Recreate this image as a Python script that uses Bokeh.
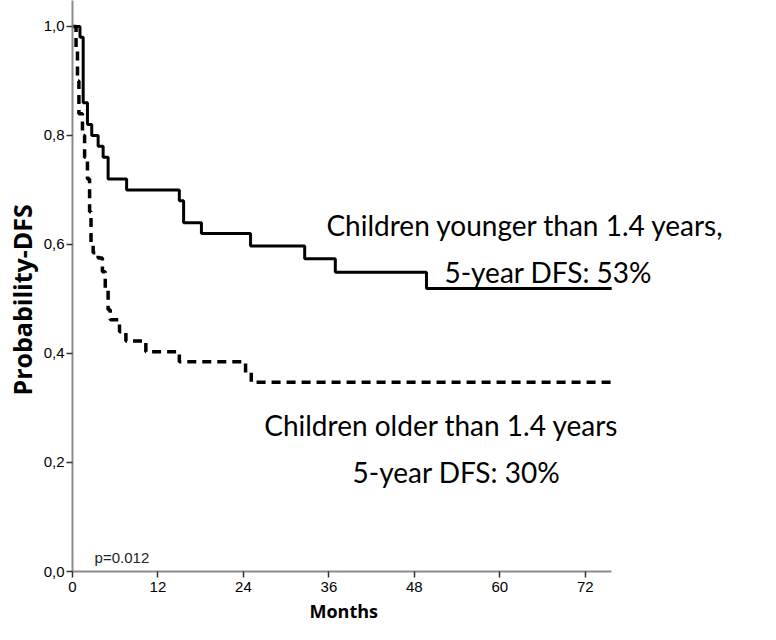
from bokeh.plotting import figure
from bokeh.models import Range1d, FixedTicker, Title
from bokeh.core.properties import value
from bokeh.embed import file_html
from bokeh.resources import INLINE

# Kaplan-Meier estimates (months, survival after the step)
young_t = [0, 1.05, 1.5, 2.1, 2.7, 3.6, 4.3, 5.0, 7.6, 15.0, 15.6, 18.1, 25.0, 32.6, 36.9, 49.7, 75.7]
young_s = [1.0, 0.98, 0.86, 0.82, 0.80, 0.78, 0.76, 0.72, 0.70, 0.68, 0.64, 0.62, 0.597, 0.574, 0.549, 0.519, 0.519]

old_t = [0, 0.5, 0.7, 0.9, 1.4, 1.7, 2.1, 2.4, 2.6, 2.9, 3.6, 4.2, 4.6, 5.0, 5.3, 6.6, 7.5, 10.3, 15.0, 24.3, 25.1, 75.7]
old_s = [1.0, 0.96, 0.90, 0.84, 0.80, 0.76, 0.72, 0.66, 0.60, 0.585, 0.575, 0.55, 0.52, 0.48, 0.462, 0.44, 0.423, 0.403, 0.385, 0.365, 0.347, 0.347]

x_ticks = [0, 12, 24, 36, 48, 60, 72]
x_tick_labels = ["0", "12", "24", "36", "48", "60", "72"]
y_ticks = [0.0, 0.2, 0.4, 0.6, 0.8, 1.0]
y_tick_labels = ["0,0", "0,2", "0,4", "0,6", "0,8", "1,0"]

ann_x = [63.6, 66.8, 51.8, 53.9]
ann_y = [0.636, 0.549, 0.269, 0.183]
ann_text = ["Children younger than 1.4 years,", "5-year DFS: 53%",
            "Children older than 1.4 years", "5-year DFS: 30%"]

p_text = ["p=0.012"]
p_x = [3.1]
p_y = [0.026]

p = figure(width=760, height=624, output_backend="svg", toolbar_location=None,
           x_range=Range1d(0, 96.6), y_range=Range1d(0, 1.0476),
           min_border_left=70, min_border_right=0, min_border_top=0, min_border_bottom=52)
p.outline_line_color = None
p.xgrid.visible = False
p.ygrid.visible = False
p.background_fill_color = "white"
p.border_fill_color = "white"

p.step(old_t, old_s, mode="after", line_color="black", line_width=3.5, line_dash="9 6")
p.step(young_t, young_s, mode="after", line_color="black", line_width=3)

p.text(ann_x, ann_y, text=ann_text, text_align="center", text_baseline="alphabetic",
       text_font=value("Lato"), text_font_size="28px", text_color="black")
p.text(p_x, p_y, text=p_text, text_align="left", text_baseline="alphabetic",
       text_font=value("Liberation Sans"), text_font_size="15px", text_color="#222222")

for ax in (p.xaxis[0], p.yaxis[0]):
    ax.axis_line_color = "#8c8c8c"
    ax.axis_line_width = 2
    ax.major_tick_line_color = "#333333"
    ax.major_tick_line_width = 1.5
    ax.major_tick_out = 6
    ax.major_tick_in = 0
    ax.minor_tick_line_color = None
    ax.major_label_text_font = "Liberation Sans"
    ax.major_label_text_font_size = "15px"
    ax.major_label_text_color = "black"

p.xaxis.ticker = FixedTicker(ticks=x_ticks)
p.xaxis.major_label_overrides = dict(zip(x_ticks, x_tick_labels))
p.xaxis.bounds = (0, 75.7)
p.xaxis.major_label_standoff = 4

months = Title(text="Months", align="left", offset=237, standoff=4,
               text_font="Open Sans", text_font_style="bold", text_font_size="18px",
               text_color="black")
p.add_layout(months, "below")

p.yaxis.ticker = FixedTicker(ticks=y_ticks)
p.yaxis.major_label_overrides = dict(zip(y_ticks, y_tick_labels))
p.yaxis.major_label_standoff = 2

ylab = Title(text="Probability-DFS", align="left", offset=176, standoff=4,
             text_font="Open Sans", text_font_style="bold", text_font_size="25px",
             text_color="black")
p.add_layout(ylab, "left")

open("out.html", "w").write(file_html(p, INLINE))
